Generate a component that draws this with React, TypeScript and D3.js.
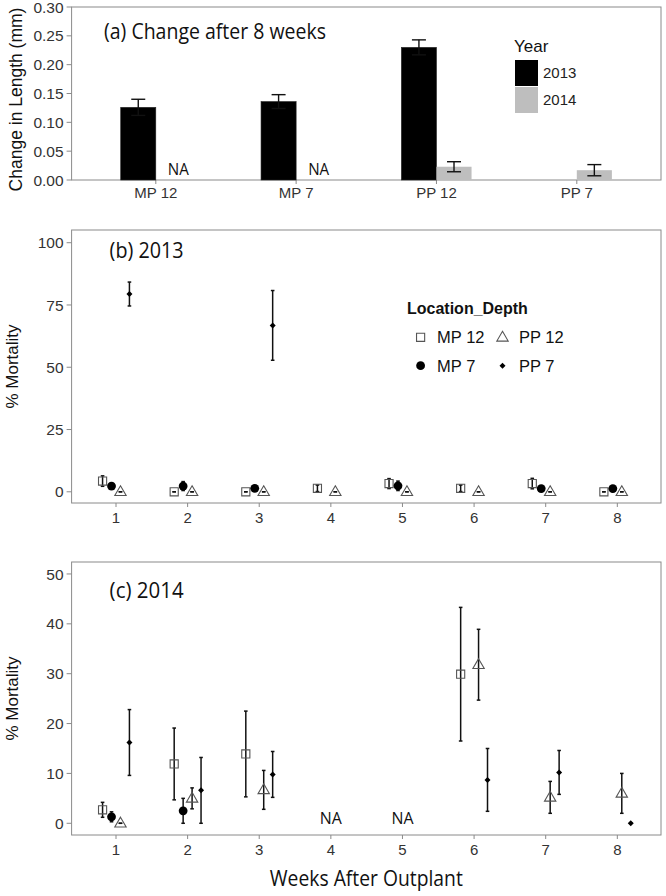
import React from 'react';
import * as d3 from 'd3';

// ---------- Panel (a) data ----------
const groups = ['MP 12', 'MP 7', 'PP 12', 'PP 7'];
const years = ['2013', '2014'];
const growth2013: (number | null)[] = [0.126, 0.136, 0.230, null];
const growth2013Err: (number | null)[] = [0.014, 0.012, 0.013, null];
const growth2014: (number | null)[] = [null, null, 0.023, 0.017];
const growth2014Err: (number | null)[] = [null, null, 0.0087, 0.0097];
const growthTicks = [0, 0.05, 0.1, 0.15, 0.2, 0.25, 0.3];

// ---------- Panels (b)/(c) data ----------
const weeks = [1, 2, 3, 4, 5, 6, 7, 8];
const seriesNames = ['MP 12', 'MP 7', 'PP 12', 'PP 7'];

const mort2013_MP12 = [4.3, 0, 0, 1.4, 3.3, 1.4, 3.3, 0];
const mort2013_MP12Err = [2.1, 0, 0, 1.3, 2.0, 1.3, 2.1, 0];
const mort2013_MP7 = [2.3, 2.3, 1.4, null, 2.4, null, 1.3, 1.3];
const mort2013_MP7Err = [0, 1.8, 0, null, 1.9, null, 0, 0];
const mort2013_PP12 = [0, 0, 0, 0, 0, 0, 0, 0];
const mort2013_PP12Err = [0, 0, 0, 0, 0, 0, 0, 0];
const mort2013_PP7 = [79.4, null, 66.8, null, null, null, null, null];
const mort2013_PP7Err = [4.8, null, 14.0, null, null, null, null, null];

const mort2014_MP12 = [2.7, 11.9, 13.9, null, null, 29.9, null, null];
const mort2014_MP12Err = [1.5, 7.2, 8.6, null, null, 13.4, null, null];
const mort2014_MP7 = [1.3, 2.5, null, null, null, null, null, null];
const mort2014_MP7Err = [1.0, 2.5, null, null, null, null, null, null];
const mort2014_PP12 = [0, 5.0, 6.7, null, null, 31.8, 5.2, 6.0];
const mort2014_PP12Err = [0, 2.1, 3.9, null, null, 7.1, 3.2, 4.0];
const mort2014_PP7 = [16.2, 6.6, 9.8, null, null, 8.7, 10.2, 0];
const mort2014_PP7Err = [6.6, 6.6, 4.6, null, null, 6.3, 4.4, 0];
const naWeeks2014 = [4, 5];

const ticks2013 = [0, 25, 50, 75, 100];
const ticks2014 = [0, 10, 20, 30, 40, 50];

const TICK_FONT = 'Liberation Sans, Arial, sans-serif';
const TITLE_FONT = 'Open Sans, Liberation Sans, sans-serif';
const BORDER = '#8a8a8a';
const TICKTXT = '#333';

type Series = { name: string; vals: (number | null)[]; errs: (number | null)[] };

const series2013: Series[] = [
  { name: seriesNames[0], vals: mort2013_MP12, errs: mort2013_MP12Err },
  { name: seriesNames[1], vals: mort2013_MP7, errs: mort2013_MP7Err },
  { name: seriesNames[2], vals: mort2013_PP12, errs: mort2013_PP12Err },
  { name: seriesNames[3], vals: mort2013_PP7, errs: mort2013_PP7Err },
];
const series2014: Series[] = [
  { name: seriesNames[0], vals: mort2014_MP12, errs: mort2014_MP12Err },
  { name: seriesNames[1], vals: mort2014_MP7, errs: mort2014_MP7Err },
  { name: seriesNames[2], vals: mort2014_PP12, errs: mort2014_PP12Err },
  { name: seriesNames[3], vals: mort2014_PP7, errs: mort2014_PP7Err },
];

const L = 71.6;
const R = 661;

function Symbol({ name, x, y }: { name: string; x: number; y: number }) {
  if (name === 'MP 12') {
    const p = d3.symbol(d3.symbolSquare, 66)();
    return <path d={p || ''} transform={`translate(${x},${y})`} fill="none" stroke="#555" strokeWidth={1.1} />;
  }
  if (name === 'PP 12') {
    const p = d3.symbol(d3.symbolTriangle, 56)();
    return <path d={p || ''} transform={`translate(${x},${y + 0.5})`} fill="none" stroke="#555" strokeWidth={1.1} />;
  }
  if (name === 'MP 7') {
    return <circle cx={x} cy={y} r={4.4} fill="#000" />;
  }
  const p = d3.symbol(d3.symbolSquare, 18)();
  return <path d={p || ''} transform={`translate(${x},${y}) rotate(45)`} fill="#000" />;
}

function MortalityPanel({
  top, bottom, domain, ticks, series, title, titleY, naWeeks,
}: {
  top: number; bottom: number; domain: [number, number]; ticks: number[];
  series: Series[]; title: string; titleY: number; naWeeks?: number[];
}) {
  const x = d3.scaleLinear().domain([0.38, 8.61]).range([L, R]);
  const y = d3.scaleLinear().domain(domain).range([bottom, top]);
  const dodge = d3.scaleBand().domain(seriesNames).range([-0.25, 0.25]);
  const off = (n: string) => (dodge(n) as number) + dodge.bandwidth() / 2;
  return (
    <g>
      <rect x={L} y={top} width={R - L} height={bottom - top} fill="#fff" stroke={BORDER} strokeWidth={1} />
      {ticks.map((t) => (
        <g key={t}>
          <line x1={L - 5} x2={L} y1={y(t)} y2={y(t)} stroke={BORDER} />
          <text x={L - 8} y={y(t)} dy="0.36em" textAnchor="end" fontSize={15.5} fill={TICKTXT} fontFamily={TICK_FONT}>{t}</text>
        </g>
      ))}
      {weeks.map((w) => (
        <g key={w}>
          <line x1={x(w)} x2={x(w)} y1={bottom} y2={bottom + 4} stroke={BORDER} />
          <text x={x(w)} y={bottom + 20} textAnchor="middle" fontSize={15} fill={TICKTXT} fontFamily={TICK_FONT}>{w}</text>
        </g>
      ))}
      <text x={L + 38} y={titleY} fontSize={22} fontFamily={TITLE_FONT} textLength={74} lengthAdjust="spacingAndGlyphs" fill="#111">{title}</text>
      {series.map((s) =>
        weeks.map((w, i) => {
          const v = s.vals[i];
          const e = s.errs[i];
          if (v == null) return null;
          const cx = x(w + off(s.name));
          return (
            <g key={s.name + w}>
              {e != null && (
                <g stroke="#111" strokeWidth={1.5}>
                  <line x1={cx} x2={cx} y1={y(v - e)} y2={y(v + e)} />
                  <line x1={cx - 1.8} x2={cx + 1.8} y1={y(v - e)} y2={y(v - e)} />
                  <line x1={cx - 1.8} x2={cx + 1.8} y1={y(v + e)} y2={y(v + e)} />
                </g>
              )}
              <Symbol name={s.name} x={cx} y={y(v)} />
            </g>
          );
        })
      )}
      {(naWeeks || []).map((w) => (
        <text key={'na' + w} x={x(w)} y={y(0) + 1} textAnchor="middle" fontSize={16} fontFamily={TITLE_FONT} textLength={22} lengthAdjust="spacingAndGlyphs" fill="#111">NA</text>
      ))}
      <text transform={`translate(12,${(top + bottom) / 2}) rotate(-90)`} textAnchor="middle" dy="0.35em" fontSize={17} fontFamily={TICK_FONT} fill="#111">% Mortality</text>
    </g>
  );
}

export default function App() {
  const aTop = 7, aBottom = 180;
  const xa = d3.scaleBand().domain(groups).range([L, R]).paddingInner(0).paddingOuter(0.1);
  const xInner = d3.scaleBand().domain(years).range([0, xa.bandwidth() * 0.5]);
  const ya = d3.scaleLinear().domain([0, 0.3]).range([aBottom, aTop]);
  const center = (g: string) => (xa(g) as number) + xa.bandwidth() / 2;
  const barX = (g: string, yr: string) => center(g) - xa.bandwidth() * 0.25 + (xInner(yr) as number);
  const bw = xInner.bandwidth();
  const barData = [
    { yr: years[0], vals: growth2013, errs: growth2013Err, color: '#000' },
    { yr: years[1], vals: growth2014, errs: growth2014Err, color: '#bebebe' },
  ];

  return (
    <svg width={666} height={896} style={{ position: 'absolute', left: 0, top: 0, background: '#fff' }}>
      {/* Panel (a) */}
      <rect x={L} y={aTop} width={R - L} height={aBottom - aTop} fill="#fff" stroke={BORDER} />
      {growthTicks.map((t) => (
        <g key={t}>
          <line x1={L - 5} x2={L} y1={ya(t)} y2={ya(t)} stroke={BORDER} />
          <text x={L - 8} y={ya(t)} dy="0.36em" textAnchor="end" fontSize={15.5} fill={TICKTXT} fontFamily={TICK_FONT}>{t.toFixed(2)}</text>
        </g>
      ))}
      {groups.map((g) => (
        <g key={g}>
          <line x1={center(g)} x2={center(g)} y1={aBottom} y2={aBottom + 4} stroke={BORDER} />
          <text x={center(g)} y={aBottom + 18} textAnchor="middle" fontSize={15} fill={TICKTXT} fontFamily={TICK_FONT}>{g}</text>
        </g>
      ))}
      {barData.map((b) =>
        groups.map((g, i) => {
          const v = b.vals[i];
          const e = b.errs[i];
          const bx = barX(g, b.yr);
          if (v == null) {
            if (b.yr === years[1] && i < 2) {
              return <text key={b.yr + g} x={bx + bw / 2 + 5} y={aBottom - 5} textAnchor="middle" fontSize={16} fontFamily={TITLE_FONT} textLength={21} lengthAdjust="spacingAndGlyphs" fill="#111">NA</text>;
            }
            return null;
          }
          const cx = bx + bw / 2;
          return (
            <g key={b.yr + g}>
              <rect x={bx} y={ya(v)} width={bw} height={aBottom - ya(v)} fill={b.color} stroke={b.yr === years[0] ? '#222' : 'none'} strokeWidth={0.6} />
              {e != null && (
                <g stroke="#111" strokeWidth={1.4}>
                  <line x1={cx} x2={cx} y1={ya(v - e)} y2={ya(v + e)} />
                  <line x1={cx - 7} x2={cx + 7} y1={ya(v + e)} y2={ya(v + e)} />
                  <line x1={cx - 7} x2={cx + 7} y1={ya(v - e)} y2={ya(v - e)} />
                </g>
              )}
            </g>
          );
        })
      )}
      <text x={104} y={39} fontSize={22} fontFamily={TITLE_FONT} textLength={222} lengthAdjust="spacingAndGlyphs" fill="#111">(a) Change after 8 weeks</text>
      <text transform={`translate(16,${(aTop + aBottom) / 2 + 6}) rotate(-90)`} textAnchor="middle" dy="0.35em" fontSize={17.5} fontFamily={TICK_FONT} fill="#111">Change in Length (mm)</text>
      {/* legend (a) */}
      <text x={514} y={52} fontSize={17} fontFamily={TICK_FONT} fill="#111">Year</text>
      {barData.map((b, i) => (
        <g key={'lg' + b.yr}>
          <rect x={515} y={60 + i * 27} width={23} height={26} fill={b.color} />
          <text x={543} y={73 + i * 27} dy="0.35em" fontSize={15} fontFamily={TICK_FONT} fill="#222">{b.yr}</text>
        </g>
      ))}

      {/* Panel (b) */}
      <MortalityPanel top={230} bottom={503} domain={[-4.5, 105.1]} ticks={ticks2013} series={series2013} title="(b) 2013" titleY={258} />
      {/* legend (b) */}
      <text x={407} y={314} fontSize={16} fontWeight="bold" fontFamily={TICK_FONT} fill="#111">Location_Depth</text>
      {seriesNames.map((n) => {
        const c = n.startsWith('MP') ? 0 : 1;
        const r = n.endsWith('12') ? 0 : 1;
        const sx = c === 0 ? 420.6 : 502.5;
        const sy = r === 0 ? 337.3 : 365.7;
        return (
          <g key={'lb' + n}>
            <Symbol name={n} x={sx} y={sy} />
            <text x={sx + 16.5} y={sy} dy="0.36em" fontSize={16.5} fontFamily={TICK_FONT} fill="#111">{n}</text>
          </g>
        );
      })}

      {/* Panel (c) */}
      <MortalityPanel top={562} bottom={835} domain={[-2.35, 52.4]} ticks={ticks2014} series={series2014} title="(c) 2014" titleY={598} naWeeks={naWeeks2014} />
      <text x={(L + R) / 2} y={886} textAnchor="middle" fontSize={22} fontFamily={TITLE_FONT} textLength={193} lengthAdjust="spacingAndGlyphs" fill="#111">Weeks After Outplant</text>
    </svg>
  );
}
